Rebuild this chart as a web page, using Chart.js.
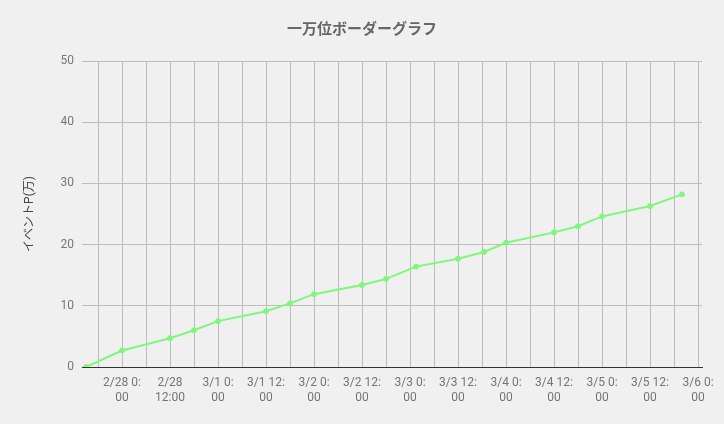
<!DOCTYPE html>
<html>
<head>
<meta charset="utf-8">
<script src="https://cdn.jsdelivr.net/npm/chart.js@4"></script>
<style>
    html, body { margin: 0; padding: 0; background: #f0f0f0; }
    #wrap { width: 724px; height: 424px; }
</style>
</head>
<body>
<div id="wrap"><canvas id="borderChart" width="724" height="424"></canvas></div>
<script>
// Observation times (JST) and event points in units of 10,000
const times = [
    '2/27 15:00', '2/28 0:00', '2/28 12:00', '2/28 18:00', '3/1 0:00',
    '3/1 12:00', '3/1 18:00', '3/2 0:00', '3/2 12:00', '3/2 18:00',
    '3/3 1:30', '3/3 12:00', '3/3 18:30', '3/4 0:00', '3/4 12:00',
    '3/4 18:00', '3/5 0:00', '3/5 12:00', '3/5 20:00'
];
const points = [
    0, 2.7, 4.7, 6.0, 7.5,
    9.1, 10.4, 11.9, 13.4, 14.4,
    16.4, 17.7, 18.8, 20.3, 22.0,
    23.0, 24.6, 26.3, 28.2
];
// Tick labels every 12 hours, starting at 2/28 0:00
const tickLabels = [
    ['2/28 0:', '00'], ['2/28', '12:00'], ['3/1 0:', '00'], ['3/1 12:', '00'],
    ['3/2 0:', '00'], ['3/2 12:', '00'], ['3/3 0:', '00'], ['3/3 12:', '00'],
    ['3/4 0:', '00'], ['3/4 12:', '00'], ['3/5 0:', '00'], ['3/5 12:', '00'],
    ['3/6 0:', '00']
];

// Hours since 2/28 0:00
function toHours(str) {
    const parts = str.split(' ');
    const md = parts[0].split('/');
    const hm = parts[1].split(':');
    const month = parseInt(md[0], 10);
    const day = parseInt(md[1], 10);
    const dayIndex = month === 2 ? day - 28 : day;
    return dayIndex * 24 + parseInt(hm[0], 10) + parseInt(hm[1], 10) / 60;
}

const data = times.map(function(t, i) {
    return { x: toHours(t), y: points[i] };
});

const ctx = document.getElementById('borderChart').getContext('2d');
const jpFont = "Roboto, 'Noto Sans CJK JP', sans-serif";

new Chart(ctx, {
    type: 'line',
    data: {
        datasets: [{
            label: 'border',
            data: data,
            borderColor: '#7ef87a',
            backgroundColor: '#7ef87a',
            pointBackgroundColor: '#7ef87a',
            pointBorderColor: '#7ef87a',
            pointRadius: 2.5,
            pointBorderWidth: 1,
            borderWidth: 2,
            tension: 0,
            fill: false
        }]
    },
    options: {
        responsive: false,
        animation: false,
        layout: { padding: { left: 22, right: 22, top: 0, bottom: 0 } },
        plugins: {
            legend: { display: false },
            tooltip: { enabled: false },
            title: {
                display: true,
                text: '一万位ボーダーグラフ',
                color: '#666',
                font: { family: jpFont, size: 15, weight: 'bold', lineHeight: 1.2 },
                padding: { top: 21, bottom: 22 }
            }
        },
        scales: {
            x: {
                type: 'linear',
                min: -10,
                max: 145,
                afterBuildTicks: function(scale) {
                    const ticks = [];
                    for (let v = -6; v <= 144; v += 6) ticks.push({ value: v });
                    scale.ticks = ticks;
                },
                afterFit: function(scale) { scale.height = 57; },
                grid: { color: '#bdbdbd', drawTicks: false },
                border: { display: true, color: '#333', width: 1 },
                ticks: {
                    color: '#757575',
                    padding: 9,
                    maxRotation: 0,
                    autoSkip: false,
                    font: { family: jpFont, size: 12, lineHeight: 1.2 },
                    callback: function(value) {
                        if (value < 0 || value % 12 !== 0) return '';
                        return tickLabels[value / 12];
                    }
                }
            },
            y: {
                min: 0,
                max: 50,
                afterFit: function(scale) { scale.width = 60; },
                grid: {
                    drawTicks: false,
                    color: function(c) { return c.tick && c.tick.value === 0 ? '#333' : '#bdbdbd'; }
                },
                border: { display: false },
                ticks: {
                    stepSize: 10,
                    color: '#757575',
                    padding: 8,
                    font: { family: jpFont, size: 12 }
                },
                title: {
                    display: true,
                    text: 'イベントP(万)',
                    color: '#444',
                    font: { family: jpFont, size: 12, lineHeight: 1.2 },
                    padding: { top: 1, bottom: 0 }
                }
            }
        }
    }
});
</script>
</body>
</html>
